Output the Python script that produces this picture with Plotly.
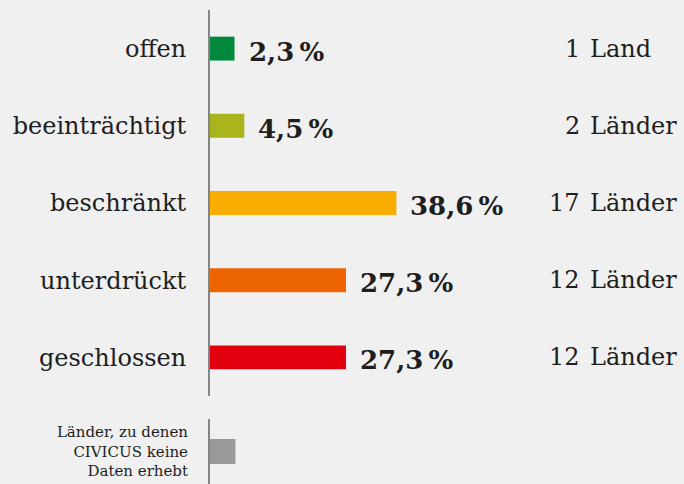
import plotly.graph_objects as go

# CIVICUS-Einstufung des zivilgesellschaftlichen Raums
kategorien = ["offen", "beeinträchtigt", "beschränkt", "unterdrückt", "geschlossen"]
anteile = [2.3, 4.5, 38.6, 27.3, 27.3]
laender = [1, 2, 17, 12, 12]
farben = ["#00893b", "#a8b51b", "#f8ac00", "#ed6500", "#e2000f"]

keine_daten_label = "Länder, zu denen<br>CIVICUS keine<br>Daten erhebt"
keine_daten_wert = 2.5

STUB = 3.2          # kurzer Sockel, damit auch kleine Balken sichtbar bleiben
X_MAX = 103.1
SERIF = "DejaVu Serif"
TEXT = "#1e1e1e"
LINIE = "#858585"

fig = go.Figure()

fig.add_trace(go.Bar(
    y=kategorien,
    x=[a + STUB for a in anteile],
    base=-STUB,
    orientation="h",
    marker=dict(color=farben, line=dict(width=0)),
    width=0.31,
    hoverinfo="skip",
    xaxis="x", yaxis="y",
))

fig.add_trace(go.Bar(
    y=[keine_daten_label],
    x=[keine_daten_wert + STUB],
    base=-STUB,
    orientation="h",
    marker=dict(color="#999999", line=dict(width=0)),
    width=0.385,
    hoverinfo="skip",
    xaxis="x2", yaxis="y2",
))

annotations = []
for kat, wert, n in zip(kategorien, anteile, laender):
    annotations.append(dict(
        x=wert, y=kat, xref="x", yref="y",
        text=f"{wert:.1f}".replace(".", ",") + "\u2009%",
        showarrow=False, xanchor="left", xshift=12, yshift=-3,
        font=dict(family=SERIF, size=26, color=TEXT, weight="bold"),
    ))
    # Anzahl rechtsbündig, Wort linksbündig
    annotations.append(dict(
        x=(582 - 210) / 474, y=kat, xref="paper", yref="y",
        text=str(n), showarrow=False, xanchor="right",
        font=dict(family=SERIF, size=24, color=TEXT),
    ))
    annotations.append(dict(
        x=(588 - 210) / 474, y=kat, xref="paper", yref="y",
        text="Land" if n == 1 else "Länder", showarrow=False, xanchor="left",
        font=dict(family=SERIF, size=24, color=TEXT),
    ))

achse = dict(
    type="category", autorange="reversed",
    showline=True, linecolor=LINIE, linewidth=2,
    showgrid=False, zeroline=False, ticks="",
    ticklabelstandoff=17,
)

fig.update_layout(
    width=684, height=484,
    margin=dict(l=210, r=0, t=0, b=0),
    paper_bgcolor="#f0f0f0", plot_bgcolor="#f0f0f0",
    showlegend=False,
    xaxis=dict(range=[-STUB, X_MAX], visible=False, anchor="y"),
    xaxis2=dict(range=[-STUB, X_MAX], visible=False, anchor="y2"),
    yaxis=dict(domain=[88 / 484, 474 / 484], anchor="x",
               tickfont=dict(family=SERIF, size=24, color=TEXT), **achse),
    yaxis2=dict(domain=[0, 65 / 484], anchor="x2",
                tickfont=dict(family=SERIF, size=15, color=TEXT), **achse),
    annotations=annotations,
)

fig.write_html("out.html", config={"displayModeBar": False},
               post_script="document.body.style.margin='0';")
